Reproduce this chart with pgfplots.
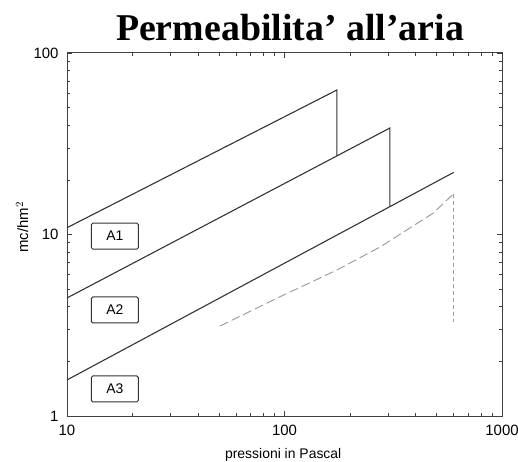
\documentclass[border=0pt]{standalone}
\usepackage{fontspec}
\setmainfont{Liberation Serif}
\newfontfamily\lsans{Liberation Sans}
\usepackage{pgfplots}
\pgfplotsset{compat=1.18}
\begin{document}
\begin{tikzpicture}
\useasboundingbox (-67bp,-46bp) rectangle (451bp,416bp);
\begin{axis}[
  at={(0,0)}, anchor=south west,
  xmode=log, ymode=log,
  xmin=10, xmax=1000, ymin=1, ymax=100,
  scale only axis, width=435bp, height=363bp,
  xtick={10,100,1000}, xticklabels={10,100,1000},
  ytick={1,10,100}, yticklabels={1,10,100},
  axis line style={black!75, line width=1pt},
  tick style={black!75, line width=0.7pt},
  major tick length=5bp, minor tick length=3bp,
  /pgf/number format/assume math mode=true,
  tick label style={font=\lsans\fontsize{15}{15}\selectfont},
  xticklabel style={yshift=-6bp},
  yticklabel style={xshift=-5bp},
  xlabel={pressioni in Pascal},
  xlabel style={font=\lsans\fontsize{14}{14}\selectfont, at={(axis description cs:0.497,0)}, anchor=north, yshift=-29bp},
  ylabel={mc/hm$^2$},
  ylabel style={font=\lsans\fontsize{15}{15}\selectfont, at={(axis description cs:-0.103,0.52)}, anchor=center},
  clip=false,
]
\addplot[black!80, line width=1.1pt] coordinates {(10,10.9) (174,62.5) (174,27.1)};
\addplot[black!80, line width=1.1pt] coordinates {(10,4.47) (305,38.6) (305,14.3)};
\addplot[black!80, line width=1.1pt] coordinates {(10,1.58) (600,22.0)};
\addplot[gray!75, line width=1pt, dash pattern=on 9pt off 4pt] coordinates {(50.5,3.13) (95,4.53) (174,6.37) (275,8.53) (482,13.1) (600,16.8)};
\addplot[gray!75, line width=1pt, dash pattern=on 4pt off 3pt] coordinates {(600,16.8) (600,3.3)};
\node[draw=black!80, line width=1pt, rounded corners=1.5pt, minimum width=47bp, minimum height=26bp, font=\lsans\fontsize{14}{14}\selectfont] at (axis cs:16.6,9.8) {A1};
\node[draw=black!80, line width=1pt, rounded corners=1.5pt, minimum width=47bp, minimum height=26bp, font=\lsans\fontsize{14}{14}\selectfont] at (axis cs:16.6,3.84) {A2};
\node[draw=black!80, line width=1pt, rounded corners=1.5pt, minimum width=47bp, minimum height=26bp, font=\lsans\fontsize{14}{14}\selectfont] at (axis cs:16.6,1.41) {A3};
\end{axis}
\node[anchor=base, font=\bfseries\fontsize{38}{40}\selectfont] at (223bp,375bp) {Permeabilita' all'aria};
\end{tikzpicture}
\end{document}
